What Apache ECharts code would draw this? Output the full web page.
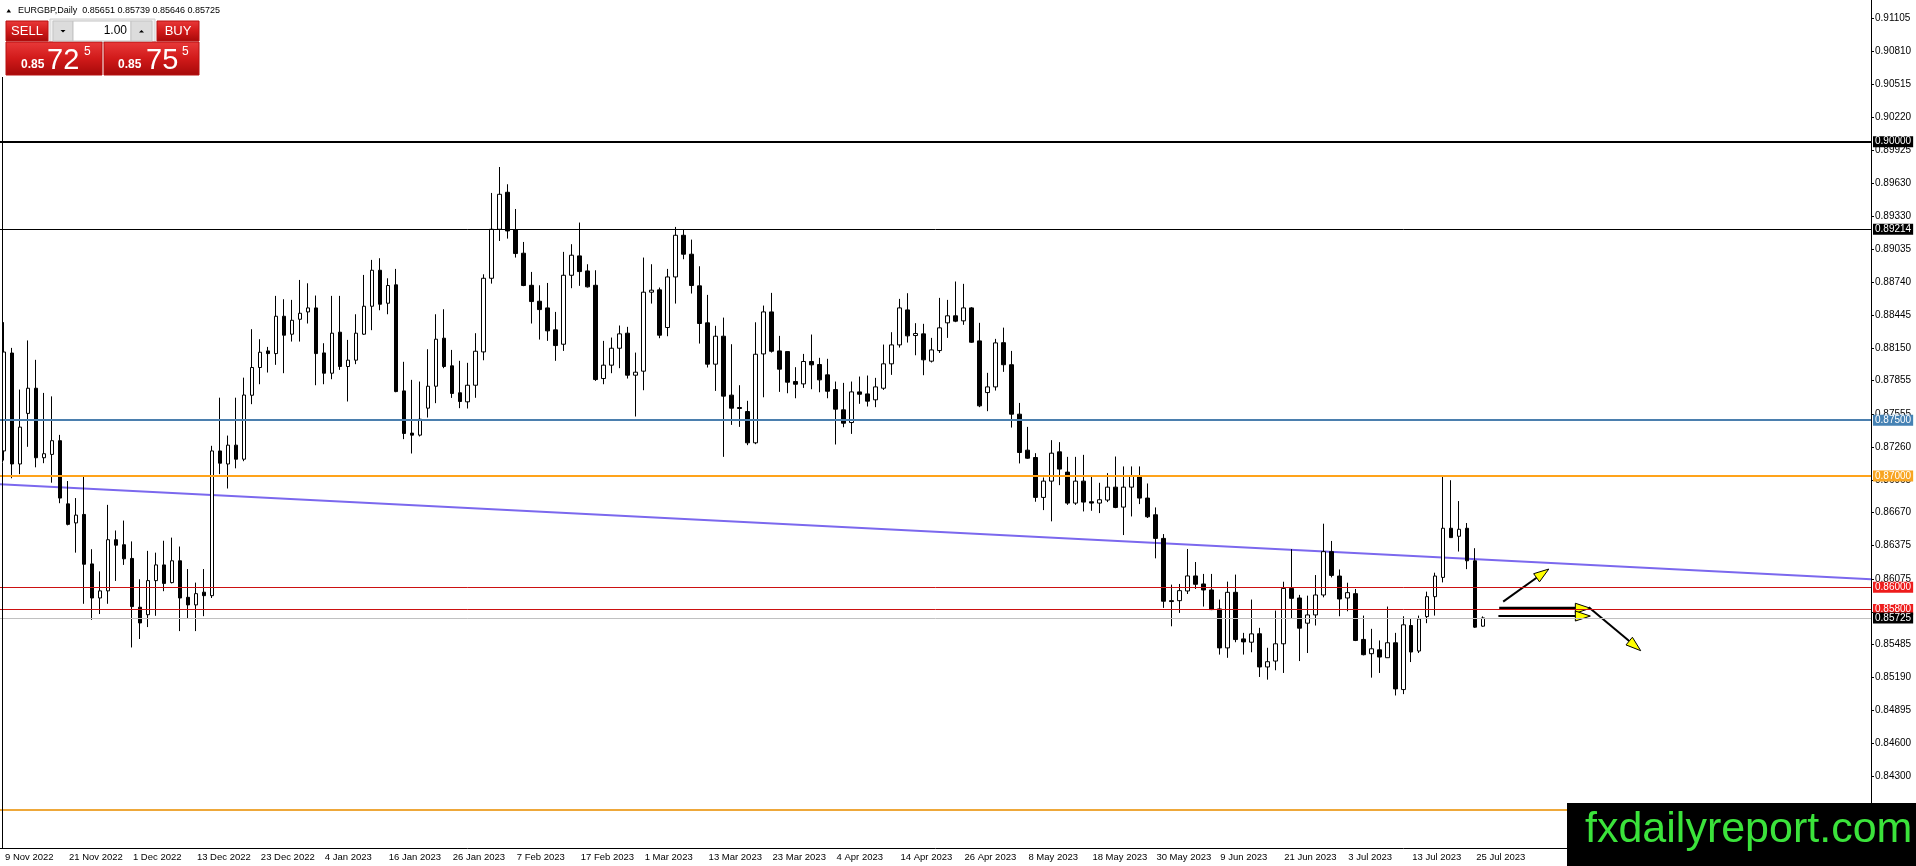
<!DOCTYPE html>
<html>
<head>
<meta charset="utf-8">
<title>EURGBP Daily</title>
<script src="https://cdn.jsdelivr.net/npm/echarts@6.0.0/dist/echarts.min.js"></script>
<style>
  html, body { margin: 0; padding: 0; background: #fff; }
  #chart { width: 1916px; height: 866px; }
</style>
</head>
<body>
<div id="chart"></div>
<script>
// date labels shown every 8 bars on the bottom axis
var dateLabels = ['9 Nov 2022', '21 Nov 2022', '1 Dec 2022', '13 Dec 2022', '23 Dec 2022', '4 Jan 2023',
  '16 Jan 2023', '26 Jan 2023', '7 Feb 2023', '17 Feb 2023', '1 Mar 2023', '13 Mar 2023', '23 Mar 2023',
  '4 Apr 2023', '14 Apr 2023', '26 Apr 2023', '8 May 2023', '18 May 2023', '30 May 2023', '9 Jun 2023',
  '21 Jun 2023', '3 Jul 2023', '13 Jul 2023', '25 Jul 2023'];

// price scale labels on the right
var tickValues = [0.91105, 0.90810, 0.90515, 0.90220, 0.89925, 0.89630, 0.89330, 0.89035, 0.88740, 0.88445,
  0.88150, 0.87855, 0.87555, 0.87260, 0.86965, 0.86670, 0.86375, 0.86075, 0.85780, 0.85485, 0.85190,
  0.84895, 0.84600, 0.84300];

// daily candles
var open = [0.87224, 0.88103, 0.87107, 0.87561, 0.87787, 0.87163, 0.87193, 0.87316, 0.86749, 0.86578,
  0.86654, 0.86210, 0.85904, 0.85968, 0.86427, 0.86382, 0.86259, 0.85821, 0.85754, 0.86060,
  0.86201, 0.86042, 0.86238, 0.85910, 0.85842, 0.85956, 0.85925, 0.87224, 0.87107, 0.87276,
  0.87150, 0.87724, 0.87973, 0.88122, 0.88098, 0.88433, 0.88272, 0.88406, 0.88472, 0.88508,
  0.88104, 0.87922, 0.88290, 0.87982, 0.88039, 0.88272, 0.88523, 0.88846, 0.88550, 0.88715,
  0.87763, 0.87384, 0.87366, 0.87608, 0.87805, 0.88236, 0.87988, 0.87746, 0.87665, 0.87814,
  0.88113, 0.88774, 0.89214, 0.89546, 0.89211, 0.88999, 0.88711, 0.88568, 0.88508, 0.88311,
  0.88182, 0.88801, 0.88975, 0.88840, 0.88711, 0.87874, 0.87994, 0.88146, 0.88281, 0.87904,
  0.87940, 0.88649, 0.88670, 0.88332, 0.88786, 0.89160, 0.88990, 0.88706, 0.88374, 0.88003,
  0.88254, 0.87725, 0.87614, 0.87578, 0.87297, 0.88095, 0.88472, 0.88122, 0.88116, 0.87847,
  0.87826, 0.88027, 0.88000, 0.87907, 0.87775, 0.87593, 0.87479, 0.87754, 0.87736, 0.87683,
  0.87787, 0.88006, 0.88176, 0.88490, 0.88260, 0.88275, 0.88030, 0.88125, 0.88374, 0.88437,
  0.88392, 0.88508, 0.88212, 0.87748, 0.87799, 0.88196, 0.87998, 0.87554, 0.87231, 0.87165,
  0.86807, 0.86953, 0.87216, 0.87034, 0.86756, 0.86953, 0.86768, 0.86756, 0.86783, 0.86899,
  0.86720, 0.86899, 0.86995, 0.86801, 0.86651, 0.86439, 0.85880, 0.85880, 0.85967, 0.86102,
  0.86030, 0.85976, 0.85806, 0.85456, 0.85955, 0.85537, 0.85507, 0.85583, 0.85285, 0.85338,
  0.85493, 0.85990, 0.85904, 0.85678, 0.85752, 0.85931, 0.86320, 0.86101, 0.85904, 0.85943,
  0.85532, 0.85404, 0.85439, 0.85368, 0.85502, 0.85082, 0.85657, 0.85428, 0.85737, 0.85916,
  0.86089, 0.86530, 0.86458, 0.86530, 0.86238, 0.85651];
var high = [0.88380, 0.88149, 0.87775, 0.88216, 0.88042, 0.87745, 0.87714, 0.87368, 0.86954, 0.86801,
  0.87000, 0.86342, 0.86143, 0.86740, 0.86510, 0.86599, 0.86412, 0.86072, 0.86327, 0.86311,
  0.86418, 0.86446, 0.86366, 0.86164, 0.86042, 0.86164, 0.87270, 0.87702, 0.87362, 0.87702,
  0.87882, 0.88317, 0.88227, 0.88158, 0.88616, 0.88586, 0.88580, 0.88759, 0.88729, 0.88619,
  0.88191, 0.88616, 0.88616, 0.88221, 0.88451, 0.88804, 0.88939, 0.88954, 0.88774, 0.88858,
  0.88024, 0.87862, 0.87847, 0.88137, 0.88451, 0.88496, 0.88131, 0.88033, 0.88015, 0.88281,
  0.88810, 0.89540, 0.89773, 0.89618, 0.89396, 0.89100, 0.88831, 0.88711, 0.88732, 0.88472,
  0.89011, 0.89080, 0.89274, 0.88900, 0.88846, 0.88212, 0.88242, 0.88350, 0.88338, 0.88107,
  0.88960, 0.88900, 0.88691, 0.88858, 0.89235, 0.89211, 0.89121, 0.88882, 0.88625, 0.88347,
  0.88421, 0.88182, 0.87814, 0.87674, 0.88379, 0.88529, 0.88643, 0.88257, 0.88116, 0.87976,
  0.88095, 0.88269, 0.88060, 0.88051, 0.87847, 0.87835, 0.87847, 0.87892, 0.87901, 0.87880,
  0.88179, 0.88290, 0.88589, 0.88640, 0.88371, 0.88365, 0.88239, 0.88598, 0.88580, 0.88745,
  0.88724, 0.88515, 0.88374, 0.87925, 0.88230, 0.88331, 0.88122, 0.87655, 0.87440, 0.87204,
  0.86986, 0.87321, 0.87303, 0.87171, 0.87171, 0.87189, 0.86992, 0.86938, 0.87025, 0.87174,
  0.87085, 0.87085, 0.87085, 0.86932, 0.86717, 0.86478, 0.86024, 0.86030, 0.86344, 0.86227,
  0.86120, 0.86120, 0.85890, 0.86051, 0.86114, 0.85591, 0.85890, 0.85636, 0.85457, 0.85791,
  0.86050, 0.86342, 0.85932, 0.85925, 0.86110, 0.86571, 0.86416, 0.86160, 0.86041, 0.85985,
  0.85746, 0.85627, 0.85523, 0.85827, 0.85591, 0.85740, 0.85716, 0.85746, 0.85961, 0.86131,
  0.86997, 0.86961, 0.86774, 0.86577, 0.86351, 0.85739];
var low = [0.87138, 0.86979, 0.87016, 0.87261, 0.87077, 0.87114, 0.86939, 0.86755, 0.86556, 0.86311,
  0.85852, 0.85708, 0.85760, 0.85852, 0.86057, 0.86201, 0.85460, 0.85536, 0.85643, 0.85744,
  0.85965, 0.86035, 0.85607, 0.85723, 0.85607, 0.85741, 0.85904, 0.87016, 0.86887, 0.87068,
  0.87132, 0.87644, 0.87823, 0.87928, 0.87997, 0.87922, 0.88206, 0.88206, 0.88368, 0.87814,
  0.87823, 0.87868, 0.87952, 0.87668, 0.88003, 0.88266, 0.88308, 0.88487, 0.88451, 0.87751,
  0.87330, 0.87201, 0.87354, 0.87524, 0.87653, 0.87967, 0.87700, 0.87608, 0.87605, 0.87701,
  0.88038, 0.88726, 0.89109, 0.89130, 0.88960, 0.88703, 0.88368, 0.88224, 0.88212, 0.88033,
  0.88122, 0.88685, 0.88706, 0.88691, 0.87853, 0.87823, 0.87922, 0.87967, 0.87874, 0.87533,
  0.87769, 0.88547, 0.88236, 0.88254, 0.88547, 0.88945, 0.88637, 0.88188, 0.87973, 0.87763,
  0.87171, 0.87458, 0.87440, 0.87276, 0.87285, 0.87706, 0.88107, 0.87754, 0.87742, 0.87697,
  0.87790, 0.87778, 0.87751, 0.87697, 0.87282, 0.87437, 0.87377, 0.87647, 0.87623, 0.87617,
  0.87772, 0.87907, 0.88152, 0.88197, 0.88083, 0.87904, 0.88018, 0.88104, 0.88239, 0.88380,
  0.88356, 0.88194, 0.87617, 0.87581, 0.87766, 0.87934, 0.87434, 0.87112, 0.87153, 0.86768,
  0.86693, 0.86592, 0.86917, 0.86740, 0.86740, 0.86681, 0.86687, 0.86666, 0.86765, 0.86710,
  0.86469, 0.86636, 0.86747, 0.86622, 0.86260, 0.85815, 0.85650, 0.85770, 0.85940, 0.85985,
  0.85827, 0.85795, 0.85396, 0.85367, 0.85507, 0.85396, 0.85417, 0.85195, 0.85171, 0.85255,
  0.85231, 0.85722, 0.85338, 0.85410, 0.85657, 0.85910, 0.86089, 0.85740, 0.85785, 0.85517,
  0.85389, 0.85189, 0.85231, 0.85368, 0.85029, 0.85041, 0.85329, 0.85410, 0.85678, 0.85746,
  0.86044, 0.86446, 0.86321, 0.86163, 0.85636, 0.85646];
var close = [0.88112, 0.87107, 0.87438, 0.87787, 0.87163, 0.87199, 0.87316, 0.86801, 0.86565, 0.86648,
  0.86207, 0.85904, 0.85968, 0.86427, 0.86378, 0.86256, 0.85827, 0.85680, 0.86060, 0.86201,
  0.86035, 0.86238, 0.85904, 0.85842, 0.85943, 0.85925, 0.87224, 0.87114, 0.87276, 0.87150,
  0.87726, 0.87973, 0.88110, 0.88098, 0.88433, 0.88263, 0.88397, 0.88460, 0.88508, 0.88098,
  0.87922, 0.88281, 0.87982, 0.88039, 0.88281, 0.88523, 0.88846, 0.88541, 0.88709, 0.87757,
  0.87381, 0.87366, 0.87509, 0.87805, 0.88227, 0.87982, 0.87740, 0.87668, 0.87814, 0.88119,
  0.88774, 0.89214, 0.89528, 0.89199, 0.88996, 0.88709, 0.88565, 0.88493, 0.88302, 0.88170,
  0.88801, 0.88981, 0.88834, 0.88697, 0.87865, 0.87994, 0.88146, 0.88275, 0.87904, 0.87931,
  0.88649, 0.88667, 0.88263, 0.88786, 0.89160, 0.88990, 0.88709, 0.88368, 0.88003, 0.88254,
  0.87716, 0.87608, 0.87605, 0.87297, 0.88092, 0.88472, 0.88119, 0.87958, 0.87841, 0.87823,
  0.88027, 0.87997, 0.87862, 0.87760, 0.87599, 0.87473, 0.87754, 0.87733, 0.87671, 0.87799,
  0.88006, 0.88176, 0.88508, 0.88257, 0.88278, 0.88042, 0.88131, 0.88329, 0.88437, 0.88389,
  0.88508, 0.88200, 0.87629, 0.87799, 0.88194, 0.87998, 0.87554, 0.87210, 0.87159, 0.86807,
  0.86953, 0.87204, 0.87061, 0.86756, 0.86953, 0.86765, 0.86756, 0.86786, 0.86899, 0.86717,
  0.86899, 0.87001, 0.86801, 0.86633, 0.86439, 0.85875, 0.85872, 0.85970, 0.86102, 0.86027,
  0.85976, 0.85800, 0.85456, 0.85955, 0.85531, 0.85510, 0.85582, 0.85285, 0.85332, 0.85493,
  0.85990, 0.85901, 0.85633, 0.85752, 0.85931, 0.86320, 0.86107, 0.85895, 0.85952, 0.85523,
  0.85395, 0.85448, 0.85374, 0.85502, 0.85088, 0.85663, 0.85419, 0.85716, 0.85916, 0.86101,
  0.86530, 0.86446, 0.86521, 0.86238, 0.85642, 0.85725];

// horizontal levels drawn on the chart
var levels = [0.90000, 0.89214, 0.87500, 0.87000, 0.86000, 0.85800, 0.85725, 0.84000];
var levelColors = ['#000000', '#000000', '#4b7fae', '#ffa31a', '#cc1111', '#cc1111', '#c0c0c0', '#eea83a'];
var levelWidths = [2, 1, 2, 2, 1, 1, 1, 2];
var levelTags = ['#000000', '#000000', '#4682b4', '#f8a521', '#ee1c1c', '#ee1c1c', '#000000', null];

// sloping trend line, x in bar units
var trendline = [[-0.5, 0.86925], [233.5, 0.86072]];

// arrowed lines [x1, price1, x2, price2]
var arrows = [
  [187.5, 0.85871, 193.2, 0.86164],
  [187.0, 0.85812, 198.4, 0.85812],
  [186.9, 0.85742, 198.4, 0.85742],
  [198.2, 0.85820, 204.7, 0.85431]
];
var arrowWidths = [2, 3, 2, 2];

var header = 'EURGBP,Daily  0.85651 0.85739 0.85646 0.85725';
var barCount = 234;

var categories = [];
for (var i = 0; i < barCount; i++) categories.push(i);

var candles = open.map(function (o, i) {
  return [o, close[i], low[i], high[i]];
});

function showDate(index) {
  return index % 8 === 0 && index / 8 < dateLabels.length;
}

var FONT = '"Liberation Sans", Arial, sans-serif';

var redGrad = function () {
  return new echarts.graphic.LinearGradient(0, 0, 0, 1, [
    { offset: 0, color: '#e93a3a' },
    { offset: 0.5, color: '#d11a1a' },
    { offset: 1, color: '#a50909' }
  ]);
};

var chart = echarts.init(document.getElementById('chart'));
chart.setOption({
  animation: false,
  backgroundColor: '#ffffff',
  grid: { left: -1, right: 45, top: 0, bottom: 18, containLabel: false },
  xAxis: [
    {
      type: 'category',
      data: categories,
      boundaryGap: true,
      axisLine: { onZero: false, lineStyle: { color: '#000', width: 1 } },
      axisTick: { interval: showDate, alignWithLabel: true, length: 4, lineStyle: { color: '#000' } },
      axisLabel: {
        interval: showDate,
        formatter: function (v, idx) { return dateLabels[idx / 8] || ''; },
        align: 'left',
        margin: 4,
        padding: [0, 0, 0, 1],
        color: '#000',
        fontSize: 9.5,
        fontFamily: FONT
      },
      splitLine: { show: false }
    },
    {
      type: 'value', min: -0.5, max: 233.5, show: false,
      axisLine: { show: false, onZero: false }, axisTick: { show: false }, axisLabel: { show: false }, splitLine: { show: false }
    }
  ],
  yAxis: {
    type: 'value',
    position: 'right',
    min: 0.836598,
    max: 0.912720,
    scale: true,
    axisLine: { show: true, onZero: false, lineStyle: { color: '#000', width: 1 } },
    axisTick: { show: true, inside: false, customValues: tickValues, length: 3, lineStyle: { color: '#000' } },
    axisLabel: {
      customValues: tickValues,
      formatter: function (v) { return v.toFixed(5); },
      margin: 4,
      color: '#000',
      fontSize: 10,
      fontFamily: FONT
    },
    splitLine: { show: false }
  },
  series: [
    {
      name: 'levels',
      type: 'line',
      data: [],
      z: 1,
      markLine: {
        silent: true,
        symbol: 'none',
        precision: 5,
        animation: false,
        data: levels.map(function (v, i) {
          return {
            yAxis: v,
            lineStyle: { color: levelColors[i], width: levelWidths[i], type: 'solid' },
            label: levelTags[i] ? {
              show: true,
              position: 'end',
              distance: 2,
              formatter: v.toFixed(5),
              color: '#fff',
              backgroundColor: levelTags[i],
              padding: [1, 2, 0, 2],
              fontSize: 10,
              fontFamily: FONT
            } : { show: false }
          };
        })
      }
    },
    {
      name: 'trend',
      type: 'line',
      xAxisIndex: 1,
      data: trendline,
      showSymbol: false,
      z: 2,
      lineStyle: { color: '#7b68ee', width: 2 }
    },
    {
      name: 'EURGBP',
      type: 'candlestick',
      data: candles,
      barWidth: 4,
      z: 3,
      itemStyle: {
        color: '#ffffff',
        color0: '#000000',
        borderColor: '#000000',
        borderColor0: '#000000',
        borderWidth: 1
      }
    },
    {
      name: 'arrows',
      type: 'custom',
      xAxisIndex: 1,
      z: 4,
      clip: false,
      data: arrows,
      encode: { x: [0, 2], y: [1, 3] },
      renderItem: function (params, api) {
        var p1 = api.coord([api.value(0), api.value(1)]);
        var p2 = api.coord([api.value(2), api.value(3)]);
        var dx = p2[0] - p1[0], dy = p2[1] - p1[1];
        var len = Math.sqrt(dx * dx + dy * dy);
        var ux = dx / len, uy = dy / len;
        var headLen = 15, headHalf = 5;
        var bx = p2[0] - ux * headLen, by = p2[1] - uy * headLen;
        return {
          type: 'group',
          children: [
            {
              type: 'line',
              shape: { x1: p1[0], y1: p1[1], x2: bx, y2: by },
              style: { stroke: '#000', lineWidth: arrowWidths[params.dataIndex] }
            },
            {
              type: 'polygon',
              shape: { points: [p2, [bx - uy * headHalf, by + ux * headHalf], [bx + uy * headHalf, by - ux * headHalf]] },
              style: { fill: '#ffff00', stroke: '#000', lineWidth: 1 }
            }
          ]
        };
      }
    }
  ],
  graphic: [
    // left frame line
    { type: 'line', shape: { x1: 2.5, y1: 77, x2: 2.5, y2: 848 }, style: { stroke: '#000', lineWidth: 1 }, z: 50 },
    // header
    { type: 'polygon', shape: { points: [[6.5, 12.5], [11, 12.5], [8.75, 9]] }, style: { fill: '#000' }, z: 100 },
    { type: 'text', x: 18, y: 11, style: { text: header, font: '9px ' + FONT, fill: '#000', verticalAlign: 'middle' }, z: 100 },
    // sell / buy buttons
    { type: 'rect', shape: { x: 6, y: 21, width: 42, height: 20 }, style: { fill: redGrad(), stroke: '#b81010', lineWidth: 1 }, z: 100 },
    { type: 'text', x: 27, y: 31, style: { text: 'SELL', font: '13px ' + FONT, fill: '#fff', align: 'center', verticalAlign: 'middle' }, z: 101 },
    { type: 'rect', shape: { x: 50, y: 19, width: 105, height: 24 }, style: { fill: '#f0f0f0', stroke: '#cfcfcf', lineWidth: 1 }, z: 100 },
    { type: 'rect', shape: { x: 53, y: 21, width: 20, height: 20 }, style: { fill: '#dcdcdc', stroke: '#c4c4c4', lineWidth: 1 }, z: 101 },
    { type: 'rect', shape: { x: 73, y: 21, width: 58, height: 20 }, style: { fill: '#ffffff', stroke: '#c4c4c4', lineWidth: 1 }, z: 101 },
    { type: 'rect', shape: { x: 131, y: 21, width: 21, height: 20 }, style: { fill: '#dcdcdc', stroke: '#c4c4c4', lineWidth: 1 }, z: 101 },
    { type: 'polygon', shape: { points: [[60.5, 30], [65.5, 30], [63, 32.5]] }, style: { fill: '#000' }, z: 102 },
    { type: 'polygon', shape: { points: [[139, 32.5], [144, 32.5], [141.5, 30]] }, style: { fill: '#000' }, z: 102 },
    { type: 'text', x: 127, y: 31, style: { text: '1.00', font: '12px ' + FONT, fill: '#000', align: 'right', verticalAlign: 'middle' }, z: 102 },
    { type: 'rect', shape: { x: 157, y: 21, width: 42, height: 20 }, style: { fill: redGrad(), stroke: '#b81010', lineWidth: 1 }, z: 100 },
    { type: 'text', x: 178, y: 31, style: { text: 'BUY', font: '13px ' + FONT, fill: '#fff', align: 'center', verticalAlign: 'middle' }, z: 101 },
    // price boxes
    { type: 'rect', shape: { x: 6, y: 42, width: 96, height: 33 }, style: { fill: redGrad(), stroke: '#b81010', lineWidth: 1 }, z: 100 },
    { type: 'text', x: 21, y: 65, style: { text: '0.85', font: 'bold 12px ' + FONT, fill: '#fff', verticalAlign: 'middle' }, z: 101 },
    { type: 'text', x: 47, y: 60.5, style: { text: '72', font: '29px ' + FONT, fill: '#fff', verticalAlign: 'middle' }, z: 101 },
    { type: 'text', x: 84, y: 51.5, style: { text: '5', font: '12px ' + FONT, fill: '#fff', verticalAlign: 'middle' }, z: 101 },
    { type: 'rect', shape: { x: 104, y: 42, width: 95, height: 33 }, style: { fill: redGrad(), stroke: '#b81010', lineWidth: 1 }, z: 100 },
    { type: 'text', x: 118, y: 65, style: { text: '0.85', font: 'bold 12px ' + FONT, fill: '#fff', verticalAlign: 'middle' }, z: 101 },
    { type: 'text', x: 146, y: 60.5, style: { text: '75', font: '29px ' + FONT, fill: '#fff', verticalAlign: 'middle' }, z: 101 },
    { type: 'text', x: 182, y: 51.5, style: { text: '5', font: '12px ' + FONT, fill: '#fff', verticalAlign: 'middle' }, z: 101 },
    // watermark
    { type: 'rect', shape: { x: 1567, y: 803, width: 349, height: 63 }, style: { fill: '#000' }, z: 100 },
    { type: 'text', x: 1585, y: 830, style: { text: 'fxdailyreport.com', font: '43px ' + FONT, fill: '#3be33b', verticalAlign: 'middle' }, z: 101 }
  ]
});
</script>
</body>
</html>
